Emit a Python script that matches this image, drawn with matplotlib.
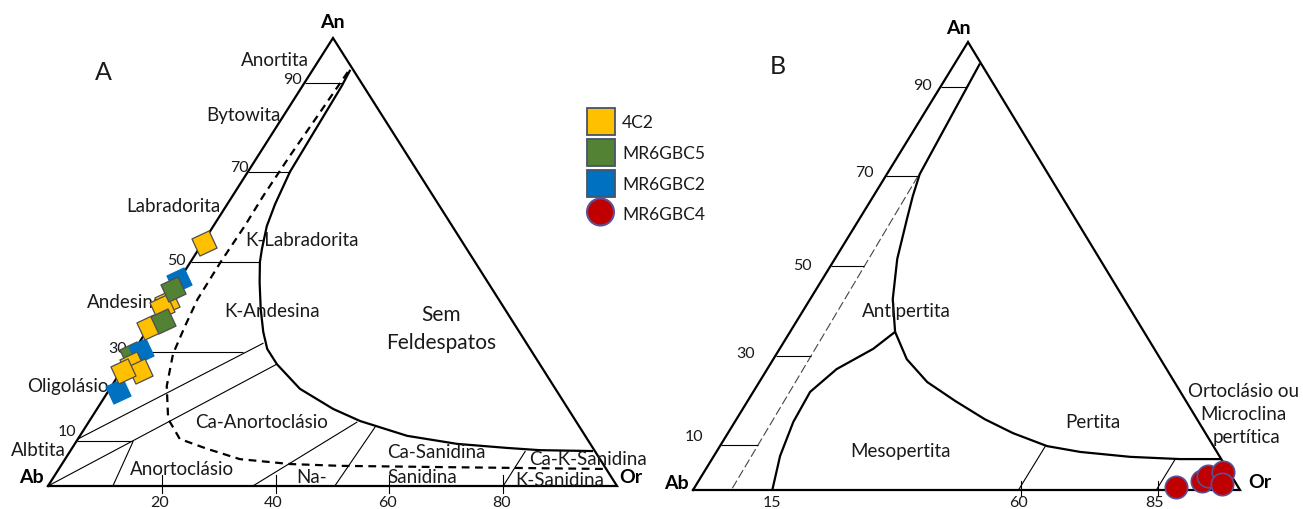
import numpy as np
import matplotlib
matplotlib.use("Agg")
import matplotlib.pyplot as plt
from matplotlib.markers import MarkerStyle
from matplotlib.transforms import Affine2D
from matplotlib.patches import Rectangle, Circle

# ---------------- DATA (ternary compositions in %, An and Or; Ab = 100 - An - Or) -------------
# Panel A : plagioclase analyses
s4c2_an = [54.2, 41.1, 40.0, 35.5, 27.2, 25.7, 25.7]
s4c2_or = [0.3, 0.4, 0.0, 0.0, 1.1, 3.3, 0.3]
mr6gbc5_an = [29.5, 44.0, 36.8]
mr6gbc5_or = [0.0, 0.0, 1.8]
mr6gbc2_an = [46.0, 30.1, 21.2]
mr6gbc2_or = [0.0, 1.2, 1.7]
# Panel B : alkali feldspar analyses
mr6gbc4_an = [0.7, 2.0, 3.1, 4.0, 1.3]
mr6gbc4_or = [88.0, 92.0, 92.6, 94.9, 96.0]

legend_labels = ["4C2", "MR6GBC5", "MR6GBC2", "MR6GBC4"]

# Panel A field boundaries (An %, Or %)
A_solid = [(92.9, 6.6), (89.3, 6.9), (70.1, 7.4), (62.9, 8.4), (58.0, 9.4), (52.9, 11.1),
           (50.0, 12.2), (45.5, 14.4), (39.5, 17.6), (34.4, 20.6), (30.6, 23.2), (27.2, 26.6),
           (21.7, 33.4), (17.2, 41.5), (14.5, 47.6), (11.2, 57.5), (9.4, 67.2), (8.5, 76.4),
           (8.0, 82.4), (7.8, 91.9)]
A_dashed = [(92.4, 6.4), (82.6, 6.0), (73.7, 5.6), (64.7, 5.4), (58.0, 5.5), (50.0, 5.3),
            (41.7, 5.4), (35.7, 6.2), (29.5, 7.2), (22.3, 9.7), (15.0, 13.6), (10.5, 17.9),
            (8.3, 23.8), (6.0, 30.7), (4.9, 40.1), (4.5, 49.1), (4.2, 68.5), (3.8, 96.2)]
A_thin = [[(10.5, 0.0), (31.9, 21.9)], [(0.0, 0.0), (27.2, 26.6)], [(9.8, 10.0), (0.0, 11.4)],
          [(0.0, 36.0), (14.3, 47.2)], [(0.0, 50.4), (13.2, 50.9)], [(0.0, 80.0), (7.8, 80.0)]]
A_tick_an = [90, 70, 50, 30, 10]
A_tick_end_or = [6.8, 7.4, 12.2, 19.2, 10.0]
A_base_ticks = [20, 40, 60, 80]

# Panel B field boundaries
B_inner = [(95.2, 4.6), (70.5, 6.0), (65.6, 7.2), (60.5, 8.7), (51.6, 11.4), (42.6, 15.1), (35.3, 19.2)]
B_left = [(35.3, 19.2), (31.5, 17.1), (27.0, 12.7), (21.9, 10.4), (15.2, 10.7), (7.6, 12.1), (0.0, 14.5)]
B_right = [(35.3, 19.2), (29.2, 24.4), (24.1, 30.7), (19.9, 37.9), (15.8, 45.4), (12.7, 52.1),
           (9.8, 59.8), (8.5, 66.5), (7.4, 76.2), (6.9, 85.6), (6.9, 93.1)]
B_dashed = [(70.1, 5.9), (0.0, 7.0)]
B_thin = [[(0.0, 59.5), (9.8, 59.5)], [(0.0, 84.7), (6.9, 84.7)]]
B_tick_an = [90, 70, 50, 30, 10]
B_tick_end_or = [4.9, 6.0, 6.2, 6.5, 6.8]
B_base_ticks = [15, 60, 85]

# ---------------- LAYOUT ----------------
TRI_A = {"ab": (48, 487), "or": (617, 487), "an": (333, 39)}
TRI_B = {"ab": (693, 491), "or": (1240, 491), "an": (968, 43)}


def to_xy(tri, an, orr):
    an = np.asarray(an, float) / 100.0
    orr = np.asarray(orr, float) / 100.0
    ab = 1.0 - an - orr
    x = ab * tri["ab"][0] + orr * tri["or"][0] + an * tri["an"][0]
    y = ab * tri["ab"][1] + orr * tri["or"][1] + an * tri["an"][1]
    return x, y


def pline(tri, pts, **kw):
    a = [p[0] for p in pts]
    o = [p[1] for p in pts]
    x, y = to_xy(tri, a, o)
    ax.plot(x, y, solid_capstyle="butt", **kw)


FONT = ["Lato", "DejaVu Sans"]
plt.rcParams["font.family"] = FONT

fig = plt.figure(figsize=(13.03, 5.10), dpi=100)
ax = fig.add_axes([0, 0, 1, 1])
ax.set_xlim(0, 1303)
ax.set_ylim(510, 0)
ax.axis("off")

K = "black"
TXT = "#1a1a1a"
THICK = 1.6
THIN = 0.8
FS = 13.5     # region labels
FN = 11.5     # numbers

for tri in (TRI_A, TRI_B):
    xs = [tri["ab"][0], tri["or"][0], tri["an"][0], tri["ab"][0]]
    ys = [tri["ab"][1], tri["or"][1], tri["an"][1], tri["ab"][1]]
    ax.plot(xs, ys, color=K, lw=THICK, solid_joinstyle="miter", zorder=2)

# ----- Panel A -----
pline(TRI_A, A_solid, color=K, lw=THICK, zorder=2)
pline(TRI_A, A_dashed, color=K, lw=THICK, dashes=(3.5, 2.5), zorder=2)
for seg in A_thin:
    pline(TRI_A, seg, color=K, lw=THIN, zorder=2)
for an, oe in zip(A_tick_an, A_tick_end_or):
    pline(TRI_A, [(an, 0.0), (an, oe)], color=K, lw=THIN, zorder=2)
for t in A_base_ticks:
    x, y = to_xy(TRI_A, 0, t)
    ax.plot([x, x], [y - 11, y + 7], color=K, lw=THIN, zorder=2)
    ax.text(x - 2, 503, str(t), fontsize=FN, ha="center", va="center", color=TXT)

# ----- Panel B -----
pline(TRI_B, B_inner, color=K, lw=THICK, zorder=2)
pline(TRI_B, B_left, color=K, lw=THICK, zorder=2)
pline(TRI_B, B_right, color=K, lw=THICK, zorder=2)
pline(TRI_B, B_dashed, color="#444444", lw=THIN, dashes=(8, 3), zorder=2)
for seg in B_thin:
    pline(TRI_B, seg, color=K, lw=THIN, zorder=2)
for an, oe in zip(B_tick_an, B_tick_end_or):
    pline(TRI_B, [(an, 0.0), (an, oe)], color=K, lw=THIN, zorder=2)
for t in B_base_ticks:
    x, y = to_xy(TRI_B, 0, t)
    if t != 15:
        ax.plot([x, x], [y - 9, y + 6], color=K, lw=THIN, zorder=2)
    ax.text(x - 3, 503, str(t), fontsize=FN, ha="center", va="center", color=TXT)

# ----- markers -----
YEL, GRN, BLU, RED = "#FFC000", "#548235", "#0070C0", "#C00000"
EDGE = "#4d4d4d"
MS = 185
sq = MarkerStyle("s", transform=Affine2D().rotate_deg(25))
# first green analysis lies underneath the blue one
x, y = to_xy(TRI_A, mr6gbc5_an[:1], mr6gbc5_or[:1])
ax.scatter(x, y, marker=sq, s=MS, c=GRN, edgecolors=EDGE, linewidths=0.9, zorder=4)
x, y = to_xy(TRI_A, mr6gbc2_an, mr6gbc2_or)
ax.scatter(x, y, marker=sq, s=MS, c=BLU, edgecolors=BLU, linewidths=0.8, zorder=5)
x, y = to_xy(TRI_A, s4c2_an, s4c2_or)
ax.scatter(x, y, marker=sq, s=MS, c=YEL, edgecolors=EDGE, linewidths=0.9, zorder=5)
x, y = to_xy(TRI_A, mr6gbc5_an[1:], mr6gbc5_or[1:])
ax.scatter(x, y, marker=sq, s=MS, c=GRN, edgecolors=EDGE, linewidths=0.9, zorder=5)
x, y = to_xy(TRI_B, mr6gbc4_an, mr6gbc4_or)
ax.scatter(x, y, marker="o", s=260, c=RED, edgecolors="#5b5095", linewidths=1.2, zorder=5)

# ----- legend -----
for i, col in enumerate([YEL, GRN, BLU]):
    ax.add_patch(Rectangle((587, 109 + i * 31), 28, 27, facecolor=col, edgecolor="#44546A",
                           lw=1.3, zorder=6))
ax.add_patch(Circle((600.5, 213), 13.5, facecolor=RED, edgecolor="#5b5095", lw=1.5, zorder=6))
for lab, yy in zip(legend_labels, [123, 154, 185, 215]):
    ax.text(622, yy, lab, fontsize=12.5, ha="left", va="center", zorder=6, color=TXT)

# ----- text, panel A -----
T = dict(ha="center", va="center", fontsize=FS, color=TXT)
ax.text(103, 72, "A", fontsize=18, ha="center", va="center", color=TXT)
ax.text(332, 23, "An", fontsize=14, fontweight="bold", ha="center", va="center")
ax.text(31, 478, "Ab", fontsize=14, fontweight="bold", ha="center", va="center")
ax.text(631, 478, "Or", fontsize=14, fontweight="bold", ha="center", va="center")
ax.text(275, 60, "Anortita", **T)
ax.text(243, 116, "Bytowita", **T)
ax.text(173, 207, "Labradorita", **T)
ax.text(302, 241, "K-Labradorita", **T)
ax.text(87, 303, "Andesina", ha="left", va="center", fontsize=FS, color=TXT, zorder=3)
ax.text(272, 312, "K-Andesina", **T)
ax.text(68, 387, "Oligolásio", **T)
ax.text(38, 451, "Albtita", **T)
ax.text(182, 470, "Anortoclásio", **T)
ax.text(262, 423, "Ca-Anortoclásio", **T)
ax.text(312, 478, "Na-", **T)
ax.text(436, 453, "Ca-Sanidina", **T)
ax.text(422, 478, "Sanidina", **T)
ax.text(588, 460, "Ca-K-Sanidina", **T)
ax.text(560, 481, "K-Sanidina", **T)
ax.text(441, 315, "Sem", fontsize=15, ha="center", va="center", color=TXT)
ax.text(441, 343, "Feldespatos", fontsize=15, ha="center", va="center", color=TXT)
for lab, (xx, yy) in zip(["90", "70", "50", "30", "10"],
                         [(293, 80), (239, 168), (176, 261), (118, 349), (67, 432)]):
    ax.text(xx, yy, lab, fontsize=FN, ha="center", va="center", color=TXT)

# ----- text, panel B -----
ax.text(778, 67, "B", fontsize=18, ha="center", va="center", color=TXT)
ax.text(958, 28, "An", fontsize=14, fontweight="bold", ha="center", va="center")
ax.text(676, 484, "Ab", fontsize=14, fontweight="bold", ha="center", va="center")
ax.text(1260, 483, "Or", fontsize=14, fontweight="bold", ha="center", va="center")
ax.text(906, 312, "Antipertita", **T)
ax.text(900, 452, "Mesopertita", **T)
ax.text(1093, 423, "Pertita", **T)
ax.text(1243, 392, "Ortoclásio ou", **T)
ax.text(1243, 415, "Microclina", **T)
ax.text(1247, 438, "pertítica", **T)
for lab, (xx, yy) in zip(["90", "70", "50", "30", "10"],
                         [(922, 86), (864, 173), (802, 266), (746, 354), (694, 437)]):
    ax.text(xx, yy, lab, fontsize=FN, ha="center", va="center", color=TXT)

fig.savefig("out.png", dpi=100)
